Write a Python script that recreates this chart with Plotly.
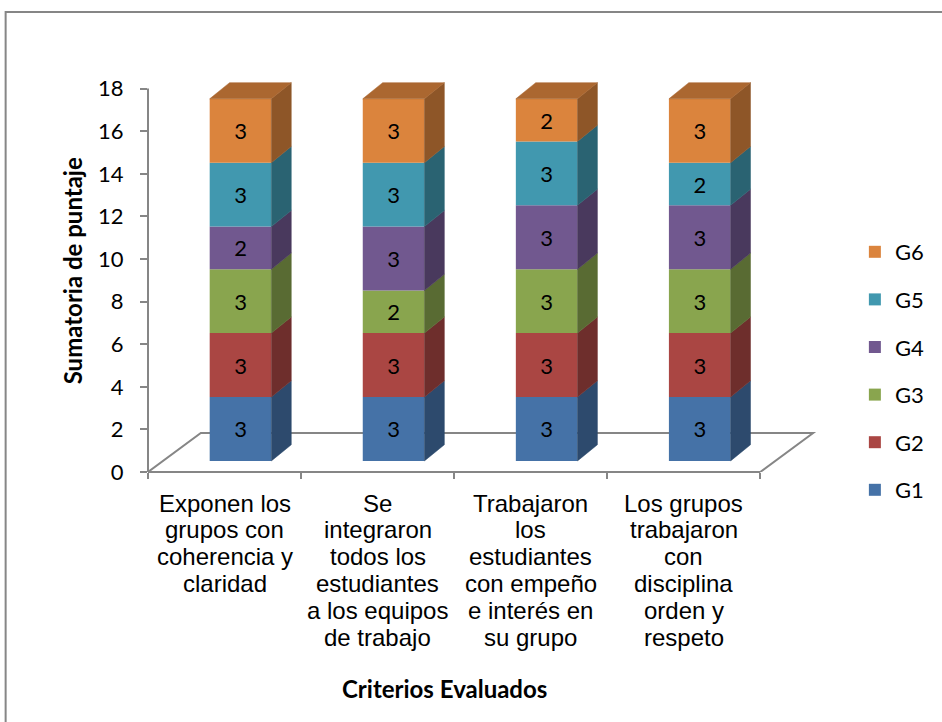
import plotly.graph_objects as go

# ---- data -------------------------------------------------------------
categories = [
    ["Exponen los", "grupos con", "coherencia y", "claridad"],
    ["Se", "integraron", "todos los", "estudiantes", "a los equipos", "de trabajo"],
    ["Trabajaron", "los", "estudiantes", "con empeño", "e interés en", "su grupo"],
    ["Los grupos", "trabajaron", "con", "disciplina", "orden y", "respeto"],
]
series_names = ["G1", "G2", "G3", "G4", "G5", "G6"]
g1 = [3, 3, 3, 3]
g2 = [3, 3, 3, 3]
g3 = [3, 2, 3, 3]
g4 = [2, 3, 3, 3]
g5 = [3, 3, 3, 2]
g6 = [3, 3, 2, 3]
series_values = [g1, g2, g3, g4, g5, g6]
y_ticks = [0, 2, 4, 6, 8, 10, 12, 14, 16, 18]
y_title = "Sumatoria de puntaje"
x_title = "Criterios Evaluados"

# ---- styling ----------------------------------------------------------
front_colors = ["#4572A7", "#AA4643", "#89A54E", "#71588F", "#4198AF", "#DB843D"]
side_colors = ["#2D4A6D", "#6E2E2C", "#596B33", "#49395D", "#2A6372", "#8E5628"]
top_colors = ["#365982", "#853735", "#6B803D", "#58456F", "#337788", "#AB6730"]
axis_gray = "#868686"

W, H = 942, 722
L, R, T, B = 148, 112, 70, 250
plot_w = W - L - R
plot_h = H - T - B
cat_px = 153.75          # pixels per category slot
unit_px = 21.3           # pixels per y unit
x_max = plot_w / cat_px
y_max = plot_h / unit_px
n_cat = len(categories)

# pseudo-3D geometry (data units)
bar_left = 0.403         # front face starts this far into each slot
bar_w = 0.403
depth_dx = 0.13
depth_dy = 0.76
lift = 0.52              # bars stand inside the floor, above the front edge
floor_dx = 0.345
floor_dy = 1.83


def px_x(px):
    return (px - L) / plot_w


def px_y(py):
    return (H - B - py) / plot_h


fig = go.Figure()

# front faces as stacked bars
bases = [lift] * n_cat
x_centers = [i + bar_left + bar_w / 2 for i in range(n_cat)]
stack_bounds = []
n_series = len(series_names)
for k, (name, vals) in enumerate(zip(series_names, series_values)):
    fig.add_trace(go.Bar(
        x=x_centers, y=vals, base=list(bases), width=bar_w,
        name=name, legendgroup=name, legendrank=100 * (n_series - k),
        marker=dict(color=front_colors[k], line=dict(width=0)),
        text=[str(v) for v in vals], textposition="inside",
        insidetextanchor="middle", textangle=0,
        textfont=dict(family="Lato", size=22, color="#000000"),
        constraintext="none", hoverinfo="skip",
    ))
    stack_bounds.append([(b, b + v) for b, v in zip(bases, vals)])
    bases = [b + v for b, v in zip(bases, vals)]

# right-hand side faces of every segment
for k, name in enumerate(series_names):
    xs, ys = [], []
    for i in range(n_cat):
        xr = i + bar_left + bar_w
        y0, y1 = stack_bounds[k][i]
        xs += [xr, xr + depth_dx, xr + depth_dx, xr, xr, None]
        ys += [y0, y0 + depth_dy, y1 + depth_dy, y1, y0, None]
    fig.add_trace(go.Scatter(
        x=xs, y=ys, mode="lines", fill="toself",
        fillcolor=side_colors[k], line=dict(color=side_colors[k], width=0.5),
        showlegend=False, hoverinfo="skip",
    ))

# top faces of the uppermost segment
top_k = n_series - 1
xs, ys = [], []
for i in range(n_cat):
    xl = i + bar_left
    xr = xl + bar_w
    yt = stack_bounds[top_k][i][1]
    xs += [xl, xl + depth_dx, xr + depth_dx, xr, xl, None]
    ys += [yt, yt + depth_dy, yt + depth_dy, yt, yt, None]
fig.add_trace(go.Scatter(
    x=xs, y=ys, mode="lines", fill="toself",
    fillcolor=top_colors[top_k], line=dict(color=top_colors[top_k], width=0.5),
    showlegend=False, hoverinfo="skip",
))

shapes = []
# floor outline behind the bars
floor_path = (f"M 0,0 L {floor_dx},{floor_dy} L {n_cat + floor_dx},{floor_dy} "
              f"L {n_cat},0")
shapes.append(dict(type="path", path=floor_path, xref="x", yref="y",
                   line=dict(color=axis_gray, width=2), layer="below"))
# value axis line
shapes.append(dict(type="line", xref="paper", yref="y", x0=0, x1=0,
                   y0=y_ticks[0], y1=y_ticks[-1],
                   line=dict(color=axis_gray, width=2)))
# category axis line
shapes.append(dict(type="line", xref="paper", yref="paper", x0=0,
                   x1=n_cat / x_max, y0=0, y1=0,
                   line=dict(color=axis_gray, width=2)))
# chart frame
shapes.append(dict(type="path", xref="paper", yref="paper",
                   path=f"M {px_x(5)},{px_y(740)} L {px_x(5)},{px_y(12)} "
                        f"L {px_x(960)},{px_y(12)}",
                   line=dict(color=axis_gray, width=2)))

annotations = []
# category labels, one line each
line_gap = 26.8
for i, lines in enumerate(categories):
    for j, txt in enumerate(lines):
        annotations.append(dict(
            x=i + 0.5, xref="x", y=px_y(503 + j * line_gap), yref="paper",
            text=txt, showarrow=False, xanchor="center", yanchor="middle",
            font=dict(family="Liberation Sans, Arial", size=24, color="#000000"),
        ))
annotations.append(dict(
    x=px_x(72), xref="paper", y=0.5, yref="paper", text=f"<b>{y_title}</b>",
    textangle=-90, showarrow=False, xanchor="center", yanchor="middle",
    font=dict(family="Lato", size=24, color="#000000"),
))
annotations.append(dict(
    x=px_x(446), xref="paper", y=px_y(688), yref="paper", text=f"<b>{x_title}</b>",
    showarrow=False, xanchor="center", yanchor="middle",
    font=dict(family="Lato", size=24, color="#000000"),
))

fig.update_layout(
    width=W, height=H,
    margin=dict(l=L, r=R, t=T, b=B, pad=0),
    paper_bgcolor="white", plot_bgcolor="white",
    barmode="overlay",
    showlegend=True,
    legend=dict(
        x=px_x(858), xanchor="left", y=px_y(231), yanchor="top",
        traceorder="grouped", tracegroupgap=16,
        font=dict(family="Lato", size=22, color="#000000"),
        bgcolor="rgba(0,0,0,0)",
    ),
    xaxis=dict(
        range=[0, x_max], showgrid=False, zeroline=False, showline=False,
        tickvals=list(range(n_cat + 1)), showticklabels=False,
        ticks="outside", ticklen=6, tickwidth=2, tickcolor=axis_gray,
        fixedrange=True,
    ),
    yaxis=dict(
        range=[0, y_max], showgrid=False, zeroline=False, showline=False,
        tickvals=y_ticks, ticktext=[str(v) for v in y_ticks],
        ticks="outside", ticklen=7, tickwidth=2, tickcolor=axis_gray,
        ticklabelstandoff=12,
        tickfont=dict(family="Lato", size=22, color="#000000"),
        fixedrange=True,
    ),
    shapes=shapes,
    annotations=annotations,
)

fig.write_html("out.html")
